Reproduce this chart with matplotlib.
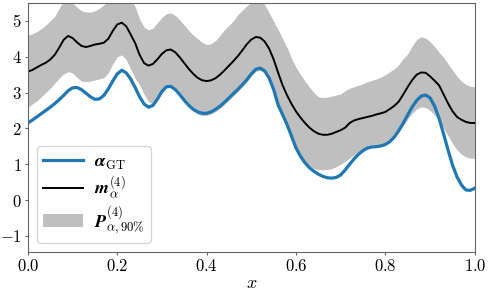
import numpy as np
import matplotlib
matplotlib.use("Agg")
import matplotlib.pyplot as plt

plt.rcParams['mathtext.fontset'] = 'cm'
plt.rcParams['font.family'] = 'serif'
plt.rcParams['font.serif'] = ['DejaVu Serif']

# valores, x de 0 a 1 cada 0.01
x = np.linspace(0.0, 1.0, 101)

alpha_gt = [2.15, 2.23, 2.32, 2.41, 2.50, 2.59, 2.69, 2.80, 2.92, 3.05,
            3.13, 3.14, 3.08, 2.98, 2.88, 2.81, 2.82, 2.92, 3.10, 3.32,
            3.52, 3.62, 3.55, 3.38, 3.14, 2.88, 2.68, 2.59, 2.64, 2.82,
            3.03, 3.16, 3.17, 3.08, 2.94, 2.78, 2.64, 2.53, 2.46, 2.42,
            2.42, 2.46, 2.53, 2.62, 2.73, 2.85, 2.97, 3.09, 3.22, 3.36,
            3.52, 3.65, 3.68, 3.60, 3.40, 3.08, 2.65, 2.38, 2.10, 1.78,
            1.45, 1.22, 1.04, 0.90, 0.80, 0.72, 0.66, 0.62, 0.61, 0.63,
            0.70, 0.84, 1.00, 1.15, 1.28, 1.38, 1.45, 1.48, 1.49, 1.51,
            1.55, 1.63, 1.76, 1.94, 2.15, 2.38, 2.60, 2.78, 2.90, 2.93,
            2.85, 2.62, 2.28, 1.85, 1.40, 0.98, 0.65, 0.42, 0.28, 0.27,
            0.33]

m_alpha = [3.58, 3.63, 3.70, 3.77, 3.83, 3.92, 4.05, 4.25, 4.47, 4.58,
           4.52, 4.40, 4.30, 4.27, 4.30, 4.34, 4.36, 4.39, 4.50, 4.72,
           4.90, 4.95, 4.85, 4.62, 4.38, 4.05, 3.82, 3.75, 3.80, 3.93,
           4.08, 4.18, 4.20, 4.12, 3.98, 3.82, 3.66, 3.52, 3.41, 3.34,
           3.32, 3.34, 3.40, 3.50, 3.62, 3.75, 3.88, 4.02, 4.18, 4.35,
           4.48, 4.55, 4.53, 4.42, 4.22, 3.92, 3.55, 3.20, 2.92, 2.68,
           2.47, 2.30, 2.15, 2.02, 1.92, 1.85, 1.82, 1.82, 1.85, 1.90,
           1.95, 2.02, 2.15, 2.22, 2.26, 2.29, 2.32, 2.35, 2.39, 2.42,
           2.46, 2.54, 2.63, 2.75, 2.95, 3.16, 3.35, 3.50, 3.56, 3.55,
           3.45, 3.33, 3.20, 2.95, 2.70, 2.48, 2.32, 2.24, 2.18, 2.15,
           2.15]

p_sup = [4.60, 4.64, 4.70, 4.78, 4.88, 5.00, 5.12, 5.35, 5.55, 5.60,
         5.50, 5.38, 5.28, 5.25, 5.24, 5.28, 5.35, 5.45, 5.55, 5.70,
         5.80, 5.82, 5.75, 5.60, 5.40, 5.05, 4.82, 4.75, 4.80, 4.95,
         5.10, 5.20, 5.22, 5.15, 5.02, 4.88, 4.73, 4.60, 4.50, 4.40,
         4.34, 4.36, 4.45, 4.60, 4.75, 4.88, 5.00, 5.18, 5.30, 5.42,
         5.52, 5.60, 5.60, 5.45, 5.22, 4.98, 4.75, 4.50, 4.25, 3.95,
         3.70, 3.50, 3.32, 3.15, 3.00, 2.88, 2.86, 2.87, 2.90, 2.93,
         2.96, 3.05, 3.12, 3.16, 3.20, 3.25, 3.30, 3.34, 3.38, 3.43,
         3.50, 3.58, 3.66, 3.78, 3.95, 4.08, 4.30, 4.48, 4.55, 4.52,
         4.42, 4.28, 4.12, 3.98, 3.80, 3.63, 3.45, 3.32, 3.22, 3.17,
         3.16]

p_inf = [2.60, 2.68, 2.77, 2.88, 3.00, 3.12, 3.26, 3.40, 3.52, 3.58,
         3.55, 3.42, 3.32, 3.30, 3.32, 3.35, 3.38, 3.42, 3.55, 3.80,
         4.00, 4.05, 3.92, 3.65, 3.40, 3.22, 2.95, 2.74, 2.68, 2.80,
         3.00, 3.14, 3.15, 3.05, 2.90, 2.73, 2.59, 2.48, 2.40, 2.36,
         2.36, 2.40, 2.47, 2.56, 2.67, 2.79, 2.91, 3.03, 3.16, 3.30,
         3.46, 3.59, 3.62, 3.54, 3.34, 3.02, 2.60, 2.32, 2.04, 1.73,
         1.42, 1.20, 1.04, 0.94, 0.88, 0.85, 0.84, 0.85, 0.88, 0.93,
         1.00, 1.08, 1.17, 1.26, 1.35, 1.42, 1.47, 1.49, 1.50, 1.52,
         1.55, 1.62, 1.74, 1.90, 2.08, 2.26, 2.42, 2.54, 2.60, 2.58,
         2.50, 2.38, 2.22, 2.02, 1.80, 1.58, 1.40, 1.28, 1.20, 1.17,
         1.16]

fig = plt.figure(figsize=(4.89, 2.94), dpi=100)
ax = fig.add_axes([0.057, 0.143, 0.914, 0.847])

ax.fill_between(x, p_inf, p_sup, color='0.75', linewidth=0,
                label=r'$\mathbfit{P}_{\alpha,90\%}^{(4)}$')
ax.plot(x, alpha_gt, color='#1f77b4', lw=2.3, label=r'$\mathbfit{\alpha}_{\mathrm{GT}}$')
ax.plot(x, m_alpha, color='black', lw=1.4, label=r'$\mathbfit{m}_{\alpha}^{(4)}$')

ax.set_xlim(0, 1)
ax.set_ylim(-1.45, 5.5)
ax.set_xticks([0.0, 0.2, 0.4, 0.6, 0.8, 1.0])
ax.set_xticklabels([f'${t:.1f}$' for t in [0.0, 0.2, 0.4, 0.6, 0.8, 1.0]])
ax.set_yticks([-1, 0, 1, 2, 3, 4, 5])
ax.set_yticklabels([f'${t}$' for t in [-1, 0, 1, 2, 3, 4, 5]])
ax.tick_params(labelsize=12, length=2.5, color='0.4', pad=2)
for s in ax.spines.values():
    s.set_color('0.4')
ax.set_xlabel('$x$', fontsize=13, labelpad=-1)

h, l = ax.get_legend_handles_labels()
ax.legend([h[1], h[2], h[0]], [l[1], l[2], l[0]], loc='lower left',
          fontsize=13, framealpha=0.8, handlelength=2.2,
          labelspacing=0.15, handletextpad=0.6, borderpad=0.35)

fig.savefig('out.png', dpi=100)
